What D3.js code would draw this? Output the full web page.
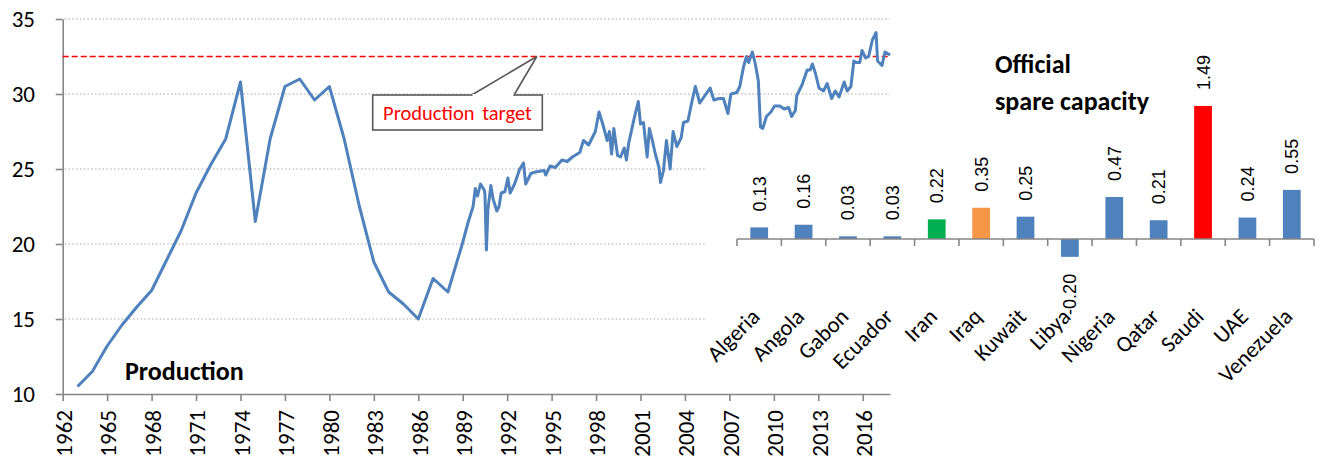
<!DOCTYPE html>
<html>
<head>
<meta charset="utf-8">
<script src="https://d3js.org/d3.v7.min.js"></script>
<style>
  body { margin: 0; background: #fff; }
  svg { display: block; font-family: Carlito, Lato, "Noto Sans", sans-serif; }
</style>
</head>
<body>
<svg id="chart" width="1322" height="461"></svg>
<script>
// annual production, then roughly monthly readings from 1989 (mb/d)
var years = [1963, 1964, 1965, 1966, 1967, 1968, 1969, 1970, 1971, 1972, 1973, 1974, 1975, 1976,
  1977, 1978, 1979, 1980, 1981, 1982, 1983, 1984, 1985, 1986, 1987, 1988,
  1989.0, 1989.35, 1989.7, 1989.85, 1990.0, 1990.2, 1990.45, 1990.5, 1990.6, 1990.7, 1990.9,
  1991.05, 1991.3, 1991.45, 1991.6, 1991.85, 1992.05, 1992.2, 1992.5, 1992.85, 1993.1, 1993.25,
  1993.6, 1993.9, 1994.5, 1994.6, 1994.9, 1995.25, 1995.7, 1996.05, 1996.4, 1996.9, 1997.15,
  1997.5, 1997.95, 1998.2, 1998.45, 1998.75, 1998.9, 1999.05, 1999.2, 1999.45, 1999.65, 1999.9,
  2000.05, 2000.2, 2000.4, 2000.6, 2000.85, 2001.0, 2001.2, 2001.45, 2001.6, 2001.8, 2002.0,
  2002.25, 2002.35, 2002.55, 2002.75, 2003.0, 2003.2, 2003.45, 2003.75, 2003.9, 2004.2, 2004.45,
  2004.7, 2005.0, 2005.35, 2005.7, 2005.95, 2006.3, 2006.6, 2006.9, 2007.1, 2007.5, 2007.7,
  2007.95, 2008.15, 2008.3, 2008.55, 2008.75, 2008.95, 2009.1, 2009.25, 2009.5, 2009.8, 2010.05,
  2010.4, 2010.7, 2011.0, 2011.2, 2011.45, 2011.55, 2011.9, 2012.25, 2012.45, 2012.6, 2012.8,
  2013.05, 2013.35, 2013.6, 2013.9, 2014.15, 2014.4, 2014.75, 2014.95, 2015.2, 2015.4, 2015.55,
  2015.8, 2015.95, 2016.2, 2016.4, 2016.65, 2016.9, 2017.0, 2017.3, 2017.5, 2017.85];
var production = [10.5, 11.5, 13.2, 14.6, 15.8, 16.9, 18.9, 20.9, 23.4, 25.3, 27.0, 30.8, 21.5, 27.0,
  30.5, 31.0, 29.6, 30.5, 27.0, 22.6, 18.8, 16.8, 16.0, 15.0, 17.7, 16.8,
  20.1, 21.4, 22.5, 23.7, 23.2, 24.0, 23.6, 23.3, 19.6, 22.3, 23.9,
  23.0, 22.2, 22.5, 23.4, 23.5, 24.4, 23.4, 24.0, 25.0, 25.4, 24.0,
  24.7, 24.8, 24.9, 24.6, 25.2, 25.1, 25.6, 25.5, 25.8, 26.1, 26.9,
  26.6, 27.5, 28.8, 28.0, 26.9, 27.5, 26.0, 27.7, 25.9, 25.8, 26.4,
  25.6, 26.7, 27.6, 28.5, 29.5, 28.0, 28.1, 25.8, 27.7, 26.9, 26.0,
  25.1, 24.1, 24.9, 26.9, 25.0, 27.5, 26.5, 27.1, 28.1, 28.2, 29.4,
  30.5, 29.4, 29.9, 30.4, 29.6, 29.7, 29.7, 28.7, 30.0, 30.1, 30.5,
  31.8, 32.5, 32.1, 32.8, 32.0, 30.9, 27.8, 27.7, 28.5, 28.8, 29.2,
  29.2, 29.0, 29.1, 28.5, 28.9, 29.9, 30.6, 31.6, 31.6, 32.0, 31.4,
  30.4, 30.2, 30.7, 29.7, 30.2, 29.8, 30.8, 30.2, 30.5, 32.2, 32.1,
  32.1, 32.9, 32.4, 32.5, 33.6, 34.1, 32.2, 31.9, 32.8, 32.6];
var productionTarget = 32.5;
var yTicks = [10, 15, 20, 25, 30, 35];
var xTicks = d3.range(1962, 2017, 3);

var countries = ["Algeria", "Angola", "Gabon", "Ecuador", "Iran", "Iraq", "Kuwait", "Libya",
  "Nigeria", "Qatar", "Saudi", "UAE", "Venezuela"];
var spare = [0.13, 0.16, 0.03, 0.03, 0.22, 0.35, 0.25, -0.20, 0.47, 0.21, 1.49, 0.24, 0.55];
var barColors = {"Iran": "#00B050", "Iraq": "#F79646", "Saudi": "#FF0000"};

var svg = d3.select("#chart");
var blue = "#4F81BD", axisGrey = "#868686";

// ---------- main production chart ----------
var x = d3.scaleLinear().domain([1962, 2017.84]).range([62.7, 890]);
var y = d3.scaleLinear().domain([10, 35]).range([394, 19]);

// dotted gridlines (lower ones hidden behind the inset chart)
svg.append("g").selectAll("line").data(yTicks.slice(1)).join("line")
  .attr("x1", x(1962) + 2)
  .attr("x2", function (d) { return d >= 30 ? 890 : 707; })
  .attr("y1", function (d) { return y(d); })
  .attr("y2", function (d) { return y(d); })
  .attr("stroke", "#BFBFBF").attr("stroke-width", 1.4)
  .attr("stroke-dasharray", "1.4,2.4");

var yAxis = svg.append("g").attr("transform", "translate(" + x(1962) + ",0)")
  .call(d3.axisLeft(y).tickValues(yTicks).tickSize(7).tickSizeOuter(0));
var xAxis = svg.append("g").attr("transform", "translate(0," + y(10) + ")")
  .call(d3.axisBottom(x).tickValues(xTicks).tickFormat(d3.format("d")).tickSize(7).tickSizeOuter(0));
[yAxis, xAxis].forEach(function (a) {
  a.attr("font-family", null).attr("font-size", null);
  a.select(".domain").attr("stroke", axisGrey).attr("stroke-width", 1.6);
  a.selectAll(".tick line").attr("stroke", axisGrey).attr("stroke-width", 1.6);
  a.selectAll("text").attr("fill", "#000").style("font-size", "23px");
});
yAxis.selectAll("text").attr("x", 35 - x(1962)).attr("dy", "0.34em");
xAxis.selectAll("text")
  .attr("transform", "rotate(-90)")
  .attr("text-anchor", "end")
  .attr("x", -16).attr("y", 1).attr("dy", "0.34em");

// production target
svg.append("line")
  .attr("x1", x(1962)).attr("x2", 890)
  .attr("y1", y(productionTarget)).attr("y2", y(productionTarget))
  .attr("stroke", "#FF0000").attr("stroke-width", 1.6)
  .attr("stroke-dasharray", "6,3");

var line = d3.line()
  .x(function (d, i) { return x(years[i]); })
  .y(function (d) { return y(d); });
svg.append("path").datum(production)
  .attr("d", line)
  .attr("fill", "none").attr("stroke", blue)
  .attr("stroke-width", 3).attr("stroke-linejoin", "round");

// callout for the target
var tipX = x(1994), tipY = y(productionTarget);
var box = svg.append("g");
box.append("rect").attr("x", 372.7).attr("y", 95).attr("width", 169.6).attr("height", 35)
  .attr("fill", "#fff").attr("stroke", "#595959").attr("stroke-width", 1.6);
box.append("path")
  .attr("d", "M471.7,95 L" + tipX + "," + tipY + " L514,95")
  .attr("fill", "#fff").attr("stroke", "#595959").attr("stroke-width", 1.6);
box.append("line").attr("x1", 472.5).attr("x2", 513.2).attr("y1", 95).attr("y2", 95)
  .attr("stroke", "#fff").attr("stroke-width", 2);
box.append("text").attr("x", 457.5).attr("y", 120).attr("text-anchor", "middle")
  .attr("fill", "#FF0000").style("font-size", "20.5px").style("word-spacing", "3px")
  .text("Production target");

svg.append("text").attr("x", 125).attr("y", 380)
  .style("font-size", "26px").style("font-weight", "bold").text("Production");

// ---------- inset: official spare capacity ----------
var bx = d3.scaleBand().domain(countries).range([737, 1314]).paddingInner(0.6).paddingOuter(0.3);
var by = d3.scaleLinear().domain([0, 1]).range([239, 239 - 89.3]);
var step = bx.step();

var bars = svg.append("g");
bars.selectAll("rect").data(spare).join("rect")
  .attr("x", function (d, i) { return bx(countries[i]); })
  .attr("width", bx.bandwidth())
  .attr("y", function (d) { return by(Math.max(0, d)); })
  .attr("height", function (d) { return Math.abs(by(d) - by(0)); })
  .attr("fill", function (d, i) { return barColors[countries[i]] || blue; });

// baseline with boundary ticks
svg.append("line").attr("x1", 737).attr("x2", 1314).attr("y1", by(0)).attr("y2", by(0))
  .attr("stroke", axisGrey).attr("stroke-width", 1.6);
svg.append("g").selectAll("line").data(d3.range(countries.length + 1)).join("line")
  .attr("x1", function (i) { return 737 + i * step; })
  .attr("x2", function (i) { return 737 + i * step; })
  .attr("y1", by(0)).attr("y2", by(0) + 7)
  .attr("stroke", axisGrey).attr("stroke-width", 1.6);

// value labels
svg.append("g").selectAll("text").data(spare).join("text")
  .attr("transform", function (d, i) {
    var cx = bx(countries[i]) + bx.bandwidth() / 2;
    var yy = d >= 0 ? by(d) - 16 : by(d) + 17;
    return "translate(" + cx + "," + yy + ") rotate(-90)";
  })
  .attr("text-anchor", function (d) { return d >= 0 ? "start" : "end"; })
  .attr("dy", "0.36em")
  .style("font-family", "'Liberation Sans', Arial, sans-serif")
  .style("font-size", "18px")
  .text(function (d) { return d.toFixed(2); });

// category labels
svg.append("g").selectAll("text").data(countries).join("text")
  .attr("transform", function (d) {
    return "translate(" + (bx(d) + bx.bandwidth() / 2 + 2) + ",318) rotate(-45)";
  })
  .attr("text-anchor", "end")
  .style("font-size", "22.5px")
  .text(function (d) { return d; });

svg.append("text").attr("x", 995).attr("y", 73)
  .style("font-size", "26px").style("font-weight", "bold").text("Official");
svg.append("text").attr("x", 995).attr("y", 110)
  .style("font-size", "26px").style("font-weight", "bold").text("spare capacity");
</script>
</body>
</html>
